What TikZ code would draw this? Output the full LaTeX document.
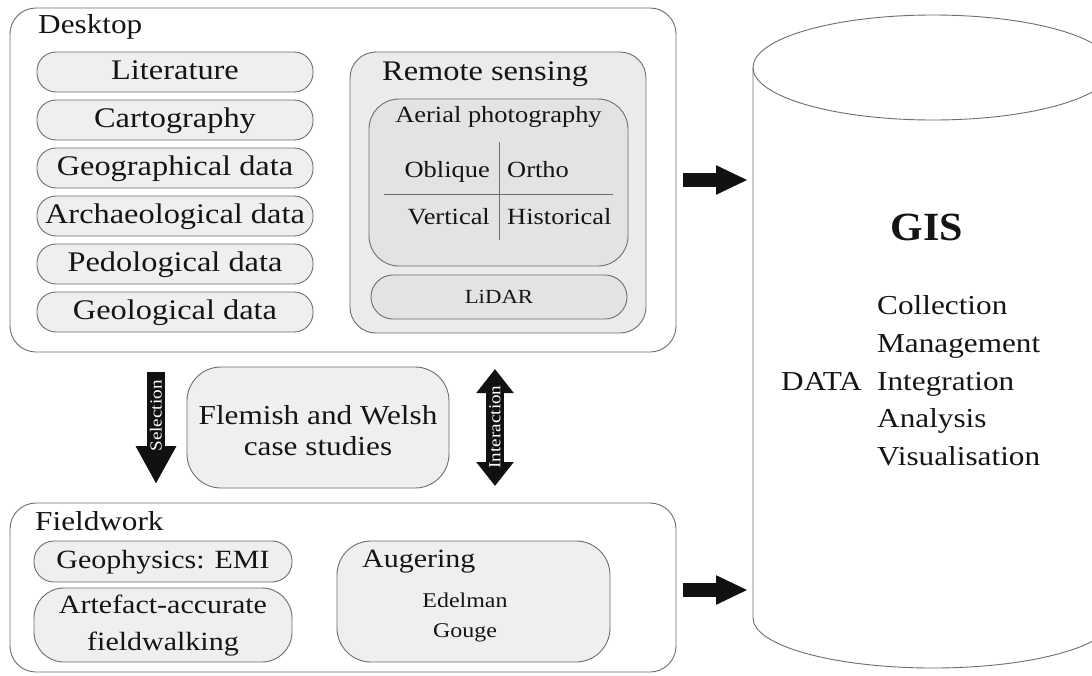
\documentclass[tikz,border=0pt]{standalone}
\usepackage{fontspec}
\setmainfont{Liberation Serif}[FakeStretch=1.14]
\newfontfamily\gisfont{Liberation Serif}[FakeStretch=1.05]
\usetikzlibrary{arrows.meta}
\newcommand{\fsz}[1]{\fontsize{#1}{#1}\selectfont}
\definecolor{lg}{HTML}{6E6E6E}
\definecolor{pillfill}{HTML}{EFEFEF}
\definecolor{rsfill}{HTML}{EBEBEB}
\definecolor{apfill}{HTML}{E3E3E3}
\definecolor{tx}{HTML}{151515}
\definecolor{blk}{HTML}{111111}
\begin{document}
\begin{tikzpicture}[x=1pt,y=-1pt,
  box/.style={draw=lg, line width=0.9pt, rounded corners=26pt, inner sep=0pt},
  pill/.style={box, fill=pillfill, rounded corners=19pt, font=\fsz{28.4}, text=tx, text height=19pt, text depth=5pt},
  lbl/.style={font=\fsz{27.4}, text=tx, inner sep=0pt},
  sml/.style={font=\fsz{23.2}, text=tx, inner sep=0pt},
  lst/.style={font=\fsz{27.4}, text=tx, inner sep=0pt, anchor=base west},
  blkarrow/.style={draw=blk, line width=14pt},
  vtxt/.style={rotate=90, text=white, font=\fsz{16.8}, inner sep=0pt},
  cyl/.style={draw=lg, line width=0.9pt}
]
\path[use as bounding box] (0,0) rectangle (1092,675);
\clip (0,0) rectangle (1092,675);
\fill[white] (0,0) rectangle (1092,675);

% ---------- Desktop ----------
\node[box, fill=white, minimum width=666pt, minimum height=344pt] (desk) at (343,180) {};
\node[lbl, anchor=base west] (desklbl) at (38,33) {Desktop};
\node[pill, minimum width=276pt, minimum height=40pt] (lit) at (175,72) {Literature};
\node[pill, minimum width=276pt, minimum height=40pt] (carto) at (175,120) {Cartography};
\node[pill, minimum width=276pt, minimum height=40pt] (geog) at (175,168) {Geographical data};
\node[pill, minimum width=276pt, minimum height=40pt] (arch) at (175,216) {Archaeological data};
\node[pill, minimum width=276pt, minimum height=40pt] (pedo) at (175,264) {Pedological data};
\node[pill, minimum width=276pt, minimum height=40pt] (geol) at (175,312) {Geological data};

% Remote sensing
\node[box, fill=rsfill, minimum width=296pt, minimum height=281pt] (rs) at (498,192.5) {};
\node[lbl, anchor=base west, font=\fsz{28.4}] (rslbl) at (382,80) {Remote sensing};
\node[box, fill=apfill, rounded corners=30pt, minimum width=259pt, minimum height=167pt] (ap) at (498.5,182.5) {};
\node[sml, anchor=base] (aplbl) at (498.5,122) {Aerial photography};
\draw[lg, line width=0.9pt] (499,142) coordinate (vl1) -- (499,240) coordinate (vl2);
\draw[lg, line width=0.9pt] (384,194) coordinate (hl1) -- (613,194) coordinate (hl2);
\node[sml, anchor=base east] (obl) at (490,177) {Oblique};
\node[sml, anchor=base west] (ort) at (507,177) {Ortho};
\node[sml, anchor=base east] (ver) at (490,224) {Vertical};
\node[sml, anchor=base west] (his) at (507,224) {Historical};
\node[box, fill=apfill, rounded corners=22pt, minimum width=256pt, minimum height=44pt, font=\fsz{20}, text=tx] (lidar) at (499,297) {LiDAR};

% ---------- middle ----------
\node[box, fill=pillfill, rounded corners=34pt, minimum width=262pt, minimum height=121pt] (case) at (318,427.5) {};
\node[lbl, anchor=base] (case1) at (318,424) {Flemish and Welsh};
\node[lbl, anchor=base] (case2) at (318,455) {case studies};

\coordinate (sel1) at (156,372);
\coordinate (sel2) at (156,484);
\draw[blkarrow, line width=18pt, -{Triangle[width=38pt,length=38pt]}] (sel1) -- (sel2);
\node[vtxt] (seltxt) at (156,416) {Selection};

\coordinate (int1) at (495,369);
\coordinate (int2) at (495,486);
\draw[blkarrow, line width=18pt, {Triangle[width=36pt,length=24pt]}-{Triangle[width=36pt,length=24pt]}] (int1) -- (int2);
\node[vtxt] (inttxt) at (495,427) {Interaction};

% ---------- Fieldwork ----------
\node[box, fill=white, minimum width=666pt, minimum height=169pt] (field) at (343,587.5) {};
\node[lbl, anchor=base west] (fieldlbl) at (35,530) {Fieldwork};
\node[pill, font=\fsz{26.3}, minimum width=258pt, minimum height=41pt, rounded corners=20pt] (geo) at (163,561.5) {Geophysics: EMI};
\node[box, fill=pillfill, rounded corners=30pt, minimum width=258pt, minimum height=74pt] (arte) at (163,625) {};
\node[lbl, anchor=base, font=\fsz{26.3}] (arte1) at (163,613) {Artefact-accurate};
\node[lbl, anchor=base, font=\fsz{26.3}] (arte2) at (163,650) {fieldwalking};
\node[box, fill=pillfill, rounded corners=34pt, minimum width=273pt, minimum height=121pt] (aug) at (473.5,601.5) {};
\node[lbl, anchor=base west, font=\fsz{26.3}] (auglbl) at (362,567) {Augering};
\node[lbl, anchor=base, font=\fsz{21}] (edel) at (465,607) {Edelman};
\node[lbl, anchor=base, font=\fsz{21}] (gouge) at (465,637) {Gouge};

% ---------- GIS cylinder ----------
\draw[cyl] (933,67.5) ellipse [x radius=180, y radius=52.5];
\draw[cyl] (753,67.5) -- (753,618) arc[start angle=180, end angle=0, x radius=180, y radius=50] -- (1113,67.5);
\node[inner sep=0pt, text=tx, font=\gisfont\bfseries\fsz{40}] (gis) at (927,227) {GIS};
\node[lst] (l1) at (877,314) {Collection};
\node[lst] (l2) at (877,352) {Management};
\node[lst] (l3) at (877,390) {Integration};
\node[lst] (l4) at (877,427) {Analysis};
\node[lst] (l5) at (877,465) {Visualisation};
\node[lst] (data) at (781,390) {DATA};

% arrows into GIS
\coordinate (r1s) at (683,180);
\coordinate (r1e) at (748,180);
\draw[blkarrow, -{Triangle[width=27pt,length=32pt]}] (r1s) -- (r1e);
\coordinate (r2s) at (683,590);
\coordinate (r2e) at (748,590);
\draw[blkarrow, -{Triangle[width=27pt,length=32pt]}] (r2s) -- (r2e);
\end{tikzpicture}
\end{document}
